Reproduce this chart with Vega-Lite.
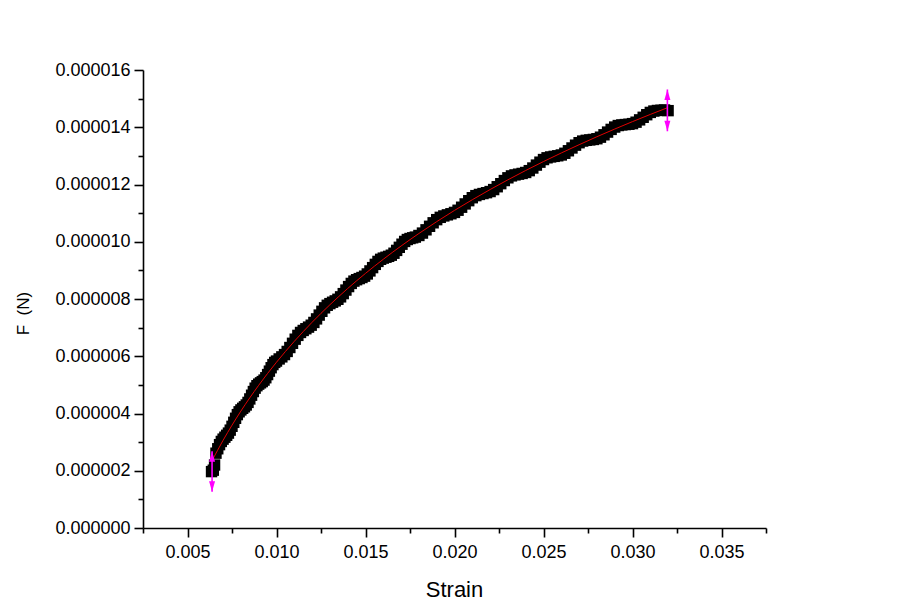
{
  "$schema": "https://vega.github.io/schema/vega-lite/v6.json",
  "width": 623,
  "height": 458,
  "autosize": {"type": "none"},
  "padding": {"left": 143, "top": 70, "right": 134, "bottom": 81},
  "background": "white",
  "config": {
    "view": {"stroke": null},
    "axis": {
      "grid": false,
      "domainColor": "black",
      "tickColor": "black",
      "labelColor": "black",
      "titleColor": "black",
      "labelFont": "Liberation Sans",
      "titleFont": "Liberation Sans",
      "labelFontSize": 18,
      "titleFontWeight": "normal",
      "domainWidth": 1.6,
      "tickWidth": 1.6
    }
  },
  "datasets": {
    "points": [
      {"Strain": 0.00635, "F": 1.97e-6},
      {"Strain": 0.00645, "F": 2.02e-6},
      {"Strain": 0.00652, "F": 2.20e-6},
      {"Strain": 0.0066, "F": 2.614e-6},
      {"Strain": 0.0067, "F": 2.768e-6},
      {"Strain": 0.0068, "F": 2.912e-6},
      {"Strain": 0.0069, "F": 3.024e-6},
      {"Strain": 0.0070, "F": 3.104e-6},
      {"Strain": 0.0071, "F": 3.172e-6},
      {"Strain": 0.0072, "F": 3.239e-6},
      {"Strain": 0.0073, "F": 3.315e-6},
      {"Strain": 0.0074, "F": 3.419e-6},
      {"Strain": 0.0075, "F": 3.552e-6},
      {"Strain": 0.0076, "F": 3.693e-6},
      {"Strain": 0.0077, "F": 3.833e-6},
      {"Strain": 0.0078, "F": 3.961e-6},
      {"Strain": 0.0079, "F": 4.059e-6},
      {"Strain": 0.0080, "F": 4.125e-6},
      {"Strain": 0.0081, "F": 4.181e-6},
      {"Strain": 0.0082, "F": 4.234e-6},
      {"Strain": 0.0083, "F": 4.297e-6},
      {"Strain": 0.0084, "F": 4.388e-6},
      {"Strain": 0.0085, "F": 4.509e-6},
      {"Strain": 0.0086, "F": 4.639e-6},
      {"Strain": 0.0087, "F": 4.767e-6},
      {"Strain": 0.0088, "F": 4.885e-6},
      {"Strain": 0.0089, "F": 4.971e-6},
      {"Strain": 0.0090, "F": 5.026e-6},
      {"Strain": 0.0091, "F": 5.071e-6},
      {"Strain": 0.0092, "F": 5.114e-6},
      {"Strain": 0.0093, "F": 5.167e-6},
      {"Strain": 0.0094, "F": 5.249e-6},
      {"Strain": 0.0095, "F": 5.360e-6},
      {"Strain": 0.0096, "F": 5.480e-6},
      {"Strain": 0.0097, "F": 5.599e-6},
      {"Strain": 0.0098, "F": 5.708e-6},
      {"Strain": 0.0099, "F": 5.785e-6},
      {"Strain": 0.0100, "F": 5.832e-6},
      {"Strain": 0.01015, "F": 5.906e-6},
      {"Strain": 0.0103, "F": 5.978e-6},
      {"Strain": 0.01045, "F": 6.059e-6},
      {"Strain": 0.0106, "F": 6.168e-6},
      {"Strain": 0.01075, "F": 6.305e-6},
      {"Strain": 0.0109, "F": 6.452e-6},
      {"Strain": 0.01105, "F": 6.596e-6},
      {"Strain": 0.0112, "F": 6.729e-6},
      {"Strain": 0.01135, "F": 6.831e-6},
      {"Strain": 0.0115, "F": 6.901e-6},
      {"Strain": 0.01165, "F": 6.961e-6},
      {"Strain": 0.0118, "F": 7.018e-6},
      {"Strain": 0.01195, "F": 7.085e-6},
      {"Strain": 0.0121, "F": 7.181e-6},
      {"Strain": 0.01225, "F": 7.305e-6},
      {"Strain": 0.0124, "F": 7.438e-6},
      {"Strain": 0.01255, "F": 7.570e-6},
      {"Strain": 0.0127, "F": 7.691e-6},
      {"Strain": 0.01285, "F": 7.781e-6},
      {"Strain": 0.0130, "F": 7.839e-6},
      {"Strain": 0.01315, "F": 7.887e-6},
      {"Strain": 0.0133, "F": 7.934e-6},
      {"Strain": 0.01345, "F": 7.990e-6},
      {"Strain": 0.0136, "F": 8.075e-6},
      {"Strain": 0.01375, "F": 8.188e-6},
      {"Strain": 0.0139, "F": 8.312e-6},
      {"Strain": 0.01405, "F": 8.434e-6},
      {"Strain": 0.0142, "F": 8.544e-6},
      {"Strain": 0.01435, "F": 8.625e-6},
      {"Strain": 0.0145, "F": 8.674e-6},
      {"Strain": 0.01465, "F": 8.713e-6},
      {"Strain": 0.0148, "F": 8.751e-6},
      {"Strain": 0.01495, "F": 8.798e-6},
      {"Strain": 0.0151, "F": 8.875e-6},
      {"Strain": 0.01525, "F": 8.981e-6},
      {"Strain": 0.0154, "F": 9.096e-6},
      {"Strain": 0.01555, "F": 9.210e-6},
      {"Strain": 0.0157, "F": 9.313e-6},
      {"Strain": 0.01585, "F": 9.386e-6},
      {"Strain": 0.0160, "F": 9.428e-6},
      {"Strain": 0.01615, "F": 9.459e-6},
      {"Strain": 0.0163, "F": 9.490e-6},
      {"Strain": 0.01645, "F": 9.530e-6},
      {"Strain": 0.0166, "F": 9.599e-6},
      {"Strain": 0.01675, "F": 9.698e-6},
      {"Strain": 0.0169, "F": 9.806e-6},
      {"Strain": 0.01705, "F": 9.914e-6},
      {"Strain": 0.0172, "F": 10.011e-6},
      {"Strain": 0.01735, "F": 10.078e-6},
      {"Strain": 0.0175, "F": 10.113e-6},
      {"Strain": 0.01765, "F": 10.138e-6},
      {"Strain": 0.0178, "F": 10.163e-6},
      {"Strain": 0.0180, "F": 10.219e-6},
      {"Strain": 0.0182, "F": 10.303e-6},
      {"Strain": 0.0184, "F": 10.417e-6},
      {"Strain": 0.0186, "F": 10.540e-6},
      {"Strain": 0.0188, "F": 10.662e-6},
      {"Strain": 0.0190, "F": 10.772e-6},
      {"Strain": 0.0192, "F": 10.853e-6},
      {"Strain": 0.0194, "F": 10.902e-6},
      {"Strain": 0.0196, "F": 10.940e-6},
      {"Strain": 0.0198, "F": 10.978e-6},
      {"Strain": 0.0200, "F": 11.025e-6},
      {"Strain": 0.0202, "F": 11.101e-6},
      {"Strain": 0.0204, "F": 11.206e-6},
      {"Strain": 0.0206, "F": 11.321e-6},
      {"Strain": 0.0208, "F": 11.435e-6},
      {"Strain": 0.0210, "F": 11.538e-6},
      {"Strain": 0.0212, "F": 11.611e-6},
      {"Strain": 0.0214, "F": 11.653e-6},
      {"Strain": 0.0216, "F": 11.684e-6},
      {"Strain": 0.0218, "F": 11.714e-6},
      {"Strain": 0.0220, "F": 11.754e-6},
      {"Strain": 0.0222, "F": 11.823e-6},
      {"Strain": 0.0224, "F": 11.922e-6},
      {"Strain": 0.0226, "F": 12.029e-6},
      {"Strain": 0.0228, "F": 12.138e-6},
      {"Strain": 0.0230, "F": 12.234e-6},
      {"Strain": 0.0232, "F": 12.301e-6},
      {"Strain": 0.0234, "F": 12.336e-6},
      {"Strain": 0.0236, "F": 12.361e-6},
      {"Strain": 0.0238, "F": 12.386e-6},
      {"Strain": 0.0240, "F": 12.420e-6},
      {"Strain": 0.0242, "F": 12.484e-6},
      {"Strain": 0.0244, "F": 12.576e-6},
      {"Strain": 0.0246, "F": 12.678e-6},
      {"Strain": 0.0248, "F": 12.780e-6},
      {"Strain": 0.0250, "F": 12.872e-6},
      {"Strain": 0.0252, "F": 12.933e-6},
      {"Strain": 0.0254, "F": 12.963e-6},
      {"Strain": 0.0256, "F": 12.983e-6},
      {"Strain": 0.0258, "F": 13.003e-6},
      {"Strain": 0.0260, "F": 13.032e-6},
      {"Strain": 0.0262, "F": 13.091e-6},
      {"Strain": 0.0264, "F": 13.179e-6},
      {"Strain": 0.0266, "F": 13.276e-6},
      {"Strain": 0.0268, "F": 13.374e-6},
      {"Strain": 0.0270, "F": 13.460e-6},
      {"Strain": 0.0272, "F": 13.517e-6},
      {"Strain": 0.0274, "F": 13.543e-6},
      {"Strain": 0.0276, "F": 13.558e-6},
      {"Strain": 0.0278, "F": 13.574e-6},
      {"Strain": 0.0280, "F": 13.599e-6},
      {"Strain": 0.0282, "F": 13.653e-6},
      {"Strain": 0.0284, "F": 13.737e-6},
      {"Strain": 0.0286, "F": 13.831e-6},
      {"Strain": 0.0288, "F": 13.925e-6},
      {"Strain": 0.0290, "F": 14.007e-6},
      {"Strain": 0.0292, "F": 14.060e-6},
      {"Strain": 0.0294, "F": 14.082e-6},
      {"Strain": 0.0296, "F": 14.094e-6},
      {"Strain": 0.0298, "F": 14.105e-6},
      {"Strain": 0.0300, "F": 14.127e-6},
      {"Strain": 0.0302, "F": 14.177e-6},
      {"Strain": 0.0304, "F": 14.258e-6},
      {"Strain": 0.0306, "F": 14.348e-6},
      {"Strain": 0.0308, "F": 14.438e-6},
      {"Strain": 0.0310, "F": 14.518e-6},
      {"Strain": 0.0312, "F": 14.566e-6},
      {"Strain": 0.0314, "F": 14.586e-6},
      {"Strain": 0.0316, "F": 14.594e-6},
      {"Strain": 0.0318, "F": 14.603e-6},
      {"Strain": 0.0320, "F": 14.58e-6}
    ],
    "fit": [
      {"Strain": 0.00636, "F": 2.330e-6},
      {"Strain": 0.007, "F": 3.064e-6},
      {"Strain": 0.008, "F": 4.085e-6},
      {"Strain": 0.009, "F": 4.986e-6},
      {"Strain": 0.010, "F": 5.792e-6},
      {"Strain": 0.011, "F": 6.521e-6},
      {"Strain": 0.012, "F": 7.187e-6},
      {"Strain": 0.013, "F": 7.799e-6},
      {"Strain": 0.014, "F": 8.367e-6},
      {"Strain": 0.015, "F": 8.895e-6},
      {"Strain": 0.016, "F": 9.388e-6},
      {"Strain": 0.017, "F": 9.852e-6},
      {"Strain": 0.018, "F": 10.289e-6},
      {"Strain": 0.019, "F": 10.702e-6},
      {"Strain": 0.020, "F": 11.095e-6},
      {"Strain": 0.021, "F": 11.468e-6},
      {"Strain": 0.022, "F": 11.824e-6},
      {"Strain": 0.023, "F": 12.164e-6},
      {"Strain": 0.024, "F": 12.490e-6},
      {"Strain": 0.025, "F": 12.802e-6},
      {"Strain": 0.026, "F": 13.102e-6},
      {"Strain": 0.027, "F": 13.390e-6},
      {"Strain": 0.028, "F": 13.669e-6},
      {"Strain": 0.029, "F": 13.937e-6},
      {"Strain": 0.030, "F": 14.197e-6},
      {"Strain": 0.031, "F": 14.448e-6},
      {"Strain": 0.03194, "F": 14.676e-6}
    ],
    "errors": [
      {"Strain": 0.00638, "lo": 1.265e-6, "hi": 2.683e-6},
      {"Strain": 0.03196, "lo": 13.86e-6, "hi": 15.32e-6}
    ]
  },
  "layer": [
    {
      "data": {"name": "points"},
      "mark": {"type": "point", "shape": "square", "filled": true, "size": 130, "color": "black", "opacity": 1, "strokeWidth": 0},
      "encoding": {
        "x": {
          "field": "Strain", "type": "quantitative",
          "scale": {"domain": [0.0025, 0.0375], "nice": false, "zero": false},
          "axis": {
            "orient": "bottom",
            "values": [0.005, 0.01, 0.015, 0.02, 0.025, 0.03, 0.035],
            "format": ".3f",
            "tickSize": 9,
            "labelPadding": 6,
            "title": "Strain",
            "titleFontSize": 22,
            "titleX": 311,
            "titleY": 68.5,
            "titleBaseline": "alphabetic",
            "titleAlign": "center"
          }
        },
        "y": {
          "field": "F", "type": "quantitative",
          "scale": {"domain": [0, 0.000016], "nice": false, "zero": true},
          "axis": {
            "orient": "left",
            "values": [0, 0.000002, 0.000004, 0.000006, 0.000008, 0.00001, 0.000012, 0.000014, 0.000016],
            "format": ".6f",
            "tickSize": 9,
            "labelPadding": 4,
            "title": "F\u00a0\u00a0(N)",
            "titleFontSize": 17,
            "titleAngle": 270,
            "titleX": -114.5,
            "titleY": 243,
            "titleBaseline": "alphabetic",
            "titleAlign": "center"
          }
        }
      }
    },
    {
      "data": {"name": "fit"},
      "mark": {"type": "line", "color": "#e00000", "strokeWidth": 1, "interpolate": "monotone"},
      "encoding": {
        "x": {
          "field": "Strain", "type": "quantitative",
          "axis": {
            "orient": "bottom",
            "values": [0.0025, 0.0075, 0.0125, 0.0175, 0.0225, 0.0275, 0.0325, 0.0375],
            "tickSize": 5,
            "labels": false,
            "domain": false,
            "title": null
          }
        },
        "y": {
          "field": "F", "type": "quantitative",
          "axis": {
            "orient": "left",
            "values": [0.000001, 0.000003, 0.000005, 0.000007, 0.000009, 0.000011, 0.000013, 0.000015],
            "tickSize": 5,
            "labels": false,
            "domain": false,
            "title": null
          }
        }
      }
    },
    {
      "data": {"name": "errors"},
      "mark": {"type": "rule", "color": "#ff00ff", "strokeWidth": 1.6},
      "encoding": {
        "x": {"field": "Strain", "type": "quantitative", "axis": null},
        "y": {"field": "lo", "type": "quantitative", "axis": null},
        "y2": {"field": "hi"}
      }
    },
    {
      "data": {"name": "errors"},
      "mark": {"type": "point", "shape": "M0,0L0.6,2.1L-0.6,2.1Z", "filled": true, "size": 100, "color": "#ff00ff", "opacity": 1, "strokeWidth": 0},
      "encoding": {
        "x": {"field": "Strain", "type": "quantitative", "axis": null},
        "y": {"field": "hi", "type": "quantitative", "axis": null}
      }
    },
    {
      "data": {"name": "errors"},
      "mark": {"type": "point", "shape": "M0,0L0.6,-2.1L-0.6,-2.1Z", "filled": true, "size": 100, "color": "#ff00ff", "opacity": 1, "strokeWidth": 0},
      "encoding": {
        "x": {"field": "Strain", "type": "quantitative", "axis": null},
        "y": {"field": "lo", "type": "quantitative", "axis": null}
      }
    }
  ],
  "resolve": {"axis": {"x": "independent", "y": "independent"}}
}
